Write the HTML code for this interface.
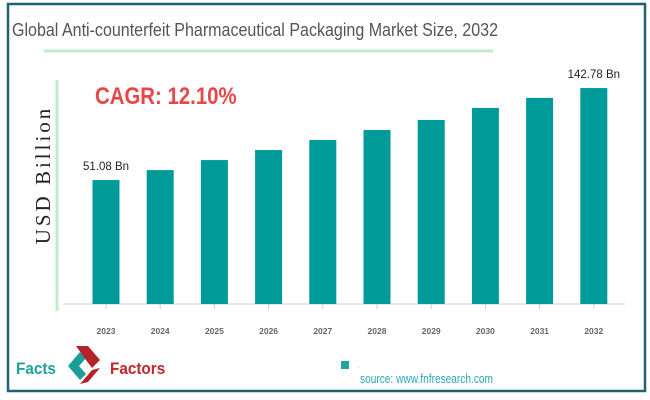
<!DOCTYPE html>
<html><head><meta charset="utf-8"><style>
body{margin:0;width:650px;height:400px;background:#fff;font-family:"Liberation Sans",sans-serif;overflow:hidden}
svg{display:block}
</style></head><body>
<svg width="650" height="400">
<rect x="8" y="4" width="637" height="387" fill="#fff" stroke="#1d6470" stroke-width="2.5"/>
<text x="12" y="36" font-size="18" fill="#555" textLength="486" lengthAdjust="spacingAndGlyphs">Global Anti-counterfeit Pharmaceutical Packaging Market Size, 2032</text>
<line x1="44" y1="51" x2="493" y2="51" stroke="#c3ebc6" stroke-width="3"/>
<line x1="57" y1="80" x2="57" y2="311" stroke="#c3ebc6" stroke-width="3"/>
<text transform="translate(50,175) rotate(-90)" text-anchor="middle" font-family="Liberation Serif,serif" font-size="21" letter-spacing="3" fill="#222">USD Billion</text>
<text x="95" y="104" font-size="24" font-weight="bold" fill="#e8474a" transform="scale(0.85,1)" style="transform-origin:95px 104px">CAGR: 12.10%</text>
<line x1="63" y1="304" x2="625" y2="304" stroke="#ccc" stroke-width="1"/>
<g id="bars"></g>
<rect x="341" y="361" width="8" height="8" fill="#24a3a3"/>
<text x="358" y="368" font-size="6" fill="#999">.</text>
<text x="360" y="383" font-size="12.5" fill="#2aa9b8" textLength="133" lengthAdjust="spacingAndGlyphs">source: www.fnfresearch.com</text>
<g>
<text x="16" y="374" font-size="17" font-weight="bold" fill="#1ba39c" transform="scale(0.9,1)" style="transform-origin:16px 374px">Facts</text>
<path d="M80 352 L68 366 L80 380 L86 374 L79 366 L86 358 Z" fill="#1a9f98"/>
<path d="M76 346 L88 346 L100 360 L92 368 L86 360 Z" fill="#b3232a"/>
<path d="M100 368 L88 382 L80 384 L92 370 Z" fill="#b3232a"/>
<text x="110" y="374" font-size="17" font-weight="bold" fill="#c0272d" transform="scale(0.9,1)" style="transform-origin:110px 374px">Factors</text>
</g>
</svg>
<script>
const categories=["2023","2024","2025","2026","2027","2028","2029","2030","2031","2032"];
const values=[51.08,61.0,71.0,81.0,91.0,101.0,111.0,123.0,133.0,142.78];
const valueLabels=["51.08 Bn","","","","","","","","","142.78 Bn"];
const yMin=-72.5, k=1.003, baseY=304, x0=106, step=54.2, bw=27;
const g=document.getElementById('bars');
const NS="http://www.w3.org/2000/svg";
function yS(v){return baseY-(v-yMin)*k;}
function xS(i){return x0+i*step;}
categories.forEach((c,i)=>{
 const r=document.createElementNS(NS,'rect');
 r.setAttribute('x',xS(i)-bw/2);r.setAttribute('y',yS(values[i]));
 r.setAttribute('width',bw);r.setAttribute('height',baseY-yS(values[i]));
 r.setAttribute('fill','#009b98');
 
 
 g.appendChild(r);
 const tk=document.createElementNS(NS,'line');
 tk.setAttribute('x1',xS(i));tk.setAttribute('x2',xS(i));tk.setAttribute('y1',baseY);tk.setAttribute('y2',baseY+5);
 tk.setAttribute('stroke','#ccc');
 
 
 g.appendChild(tk);
 const t=document.createElementNS(NS,'text');
 t.setAttribute('x',xS(i));t.setAttribute('y',334);t.setAttribute('text-anchor','middle');
 t.setAttribute('font-size','8.5');t.setAttribute('font-weight','bold');t.setAttribute('fill','#666');
 t.textContent=c;
 
 
 g.appendChild(t);
 if(valueLabels[i]){
  const v=document.createElementNS(NS,'text');
  v.setAttribute('x',xS(i));v.setAttribute('y',yS(values[i])-10);v.setAttribute('text-anchor','middle');
  v.setAttribute('font-size','11.5');v.setAttribute('fill','#222');
  v.textContent=valueLabels[i];
  
  
  g.appendChild(v);
 }
});
</script>
</body></html>
